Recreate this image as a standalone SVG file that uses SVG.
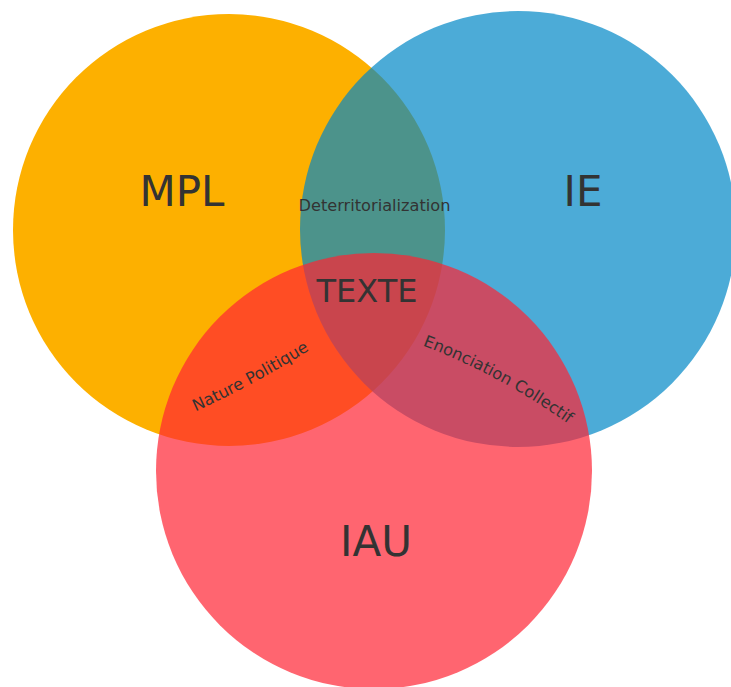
<svg xmlns="http://www.w3.org/2000/svg" width="731" height="687" viewBox="0 0 731 687">
<style>
.set{stroke:none}
.lbl{font-family:"DejaVu Sans",Verdana,sans-serif;fill:#333;text-anchor:middle}
.big{font-size:42px}
.mid{font-size:32px}
.small{font-size:16.2px}
</style>
<defs>
<path id="arcNP" d="M 192 413 Q 250 387 313 348"/>
<path id="arcEC" d="M 416 343 Q 500 374 574 428"/>
</defs>
<rect width="731" height="687" fill="#fff"/>
<g id="MPL"><circle class="set" cx="229" cy="230" r="216" fill="#fdb000"/></g>
<g id="IE"><circle class="set" cx="518" cy="229" r="218" fill="#0087c6" fill-opacity="0.7"/></g>
<g id="IAU"><circle class="set" cx="374" cy="471" r="218" fill="#ff2433" fill-opacity="0.7"/></g>
<g id="labels">
<text class="lbl big" x="182" y="206">MPL</text>
<text class="lbl big" x="583" y="206">IE</text>
<text class="lbl big" x="376" y="556">IAU</text>
</g>
<g id="TEXTE"><text class="lbl mid" x="367" y="302">TEXTE</text></g>
<g id="Deterritorialization"><text class="lbl small" x="374.5" y="211">Deterritorialization</text></g>
<g id="NaturePolitique"><text class="lbl small"><textPath href="#arcNP" startOffset="50%">Nature Politique</textPath></text></g>
<g id="EnonciationCollectif"><text class="lbl small"><textPath href="#arcEC" startOffset="50%">Enonciation Collectif</textPath></text></g>
</svg>
